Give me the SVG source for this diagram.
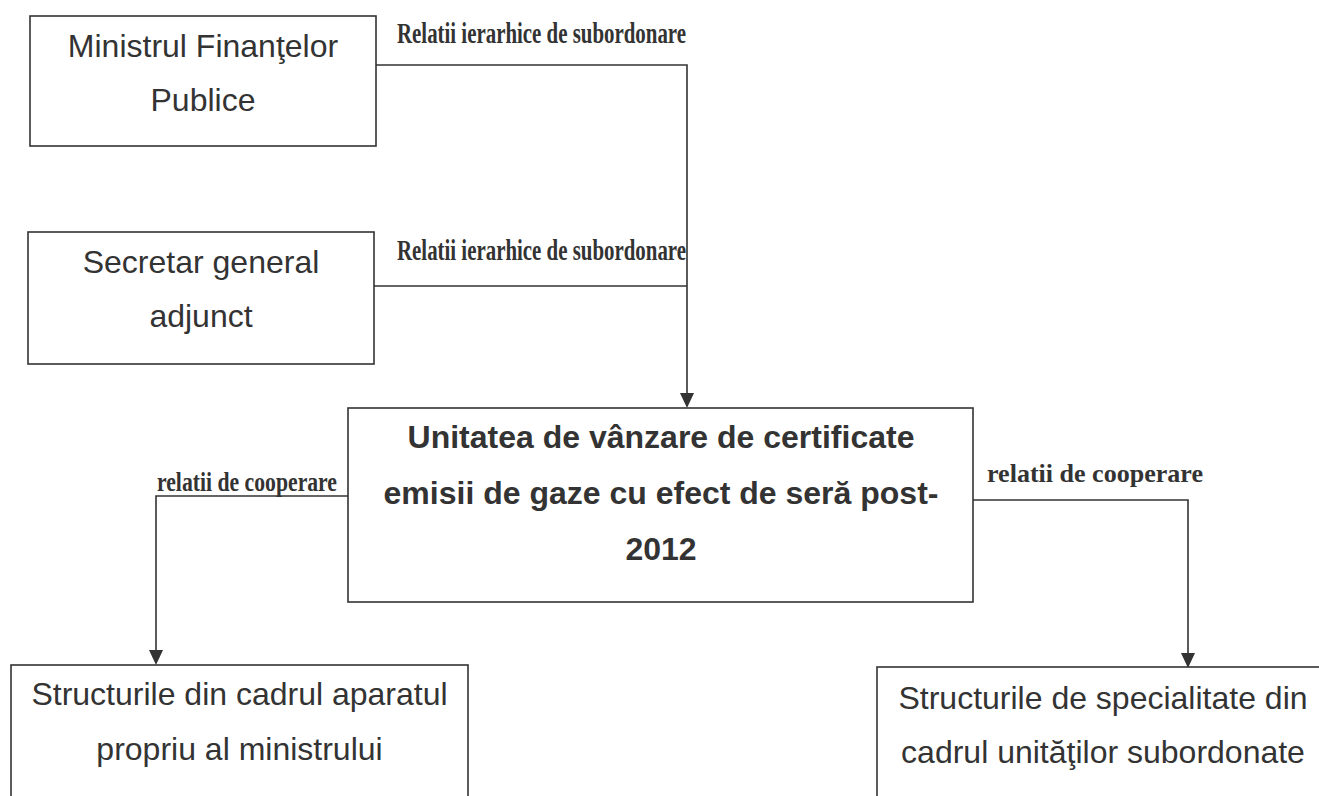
<svg xmlns="http://www.w3.org/2000/svg" width="1319" height="796" viewBox="0 0 1319 796">
<style>
.box{fill:#fff;stroke:#333;stroke-width:1.6}
.t{font-family:"Liberation Sans",Arial,sans-serif;font-size:32px;fill:#333;text-anchor:middle}
.tb{font-family:"Liberation Sans",Arial,sans-serif;font-size:32px;font-weight:bold;fill:#333;text-anchor:middle}
.lc{font-family:"Liberation Serif","Times New Roman",serif;font-weight:bold;fill:#333}
.c{fill:none;stroke:#333;stroke-width:1.6}
</style>
<rect width="1319" height="796" fill="#fff"/>
<g id="connectors">
<path class="c" d="M376,65 H687 V405"/>
<path class="c" d="M374,286 H687"/>
<path class="c" d="M348,496 H156 V663"/>
<path class="c" d="M973,500 H1188 V667"/>
<polygon points="680,393 694,393 687,408" fill="#333"/>
<polygon points="149,650 163,650 156,665" fill="#333"/>
<polygon points="1181,653 1195,653 1188,668" fill="#333"/>
<text class="lc" x="397" y="43" font-size="30" textLength="289" lengthAdjust="spacingAndGlyphs">Relatii ierarhice de subordonare</text>
<text class="lc" x="397" y="260" font-size="30" textLength="289" lengthAdjust="spacingAndGlyphs">Relatii ierarhice de subordonare</text>
<text class="lc" x="157" y="491" font-size="27" textLength="180" lengthAdjust="spacingAndGlyphs">relatii de cooperare</text>
<text class="lc" x="987" y="482" font-size="26" textLength="216" lengthAdjust="spacingAndGlyphs">relatii de cooperare</text>
</g>
<g id="n1">
<rect class="box" x="30" y="16" width="346" height="130"/>
<text class="t" x="203" y="57">Ministrul Finanţelor</text>
<text class="t" x="203" y="111">Publice</text>
</g>
<g id="n2">
<rect class="box" x="28" y="232" width="346" height="132"/>
<text class="t" x="201" y="273">Secretar general</text>
<text class="t" x="201" y="327">adjunct</text>
</g>
<g id="n3">
<rect class="box" x="348" y="408" width="625" height="194"/>
<text class="tb" x="661" y="448">Unitatea de vânzare de certificate</text>
<text class="tb" x="661" y="504">emisii de gaze cu efect de seră post-</text>
<text class="tb" x="661" y="560">2012</text>
</g>
<g id="n4">
<rect class="box" x="11" y="665" width="457" height="200"/>
<text class="t" x="239.5" y="705">Structurile din cadrul aparatul</text>
<text class="t" x="239.5" y="760">propriu al ministrului</text>
</g>
<g id="n5">
<rect class="box" x="877" y="667" width="460" height="200"/>
<text class="t" x="1103" y="709">Structurile de specialitate din</text>
<text class="t" x="1103" y="763">cadrul unităţilor subordonate</text>
</g>
</svg>
